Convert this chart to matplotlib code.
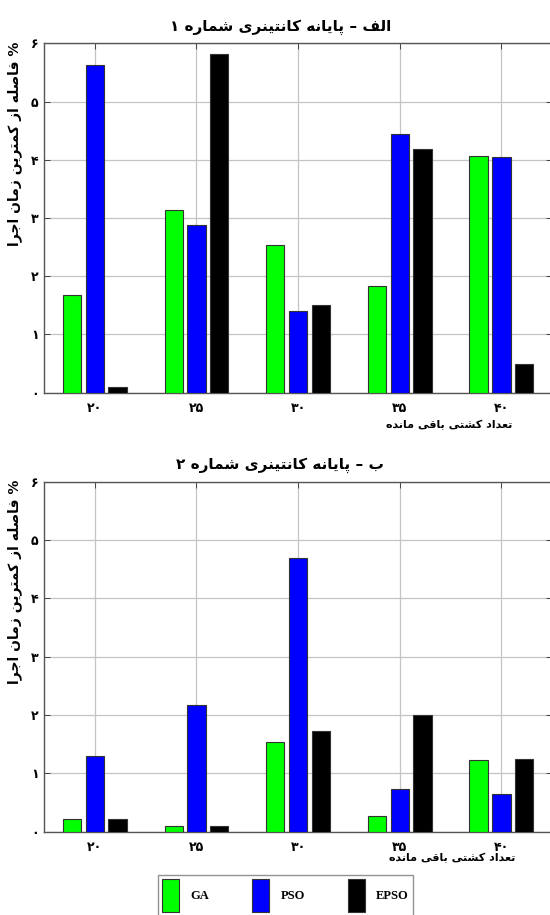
import re
import matplotlib
matplotlib.use('Agg')
import matplotlib.pyplot as plt
from matplotlib.patches import Patch

# data
ships = [20, 25, 30, 35, 40]
ship_labels = ['۲۰', '۲۵', '۳۰', '۳۵', '۴۰']
y_ticks = [0, 1, 2, 3, 4, 5, 6]
y_labels = ['۰', '۱', '۲', '۳', '۴', '۵', '۶']
methods = ['GA', 'PSO', 'EPSO']
colors = ['#00ff00', '#0000ff', '#000000']

ga_1 = [1.68, 3.14, 2.54, 1.84, 4.07]
pso_1 = [5.63, 2.88, 1.41, 4.45, 4.05]
epso_1 = [0.10, 5.81, 1.50, 4.19, 0.49]

ga_2 = [0.21, 0.10, 1.54, 0.27, 1.23]
pso_2 = [1.30, 2.17, 4.70, 0.74, 0.64]
epso_2 = [0.21, 0.10, 1.72, 2.00, 1.24]

title_1 = 'الف – پایانه کانتینری شماره ۱'
title_2 = 'ب – پایانه کانتینری شماره ۲'
ylab = '% فاصله از کمترین زمان اجرا'
xlab = 'تعداد کشتی باقی مانده'

# matplotlib has no arabic shaping, so pick presentation forms by hand
# base codepoint -> iso, fin, ini, med follow in order
BASE = {'ب': 0xFE8F, 'پ': 0xFB56, 'ت': 0xFE95, 'ج': 0xFE9D, 'ش': 0xFEB5,
        'ص': 0xFEB9, 'ع': 0xFEC9, 'ف': 0xFED1, 'ق': 0xFED5, 'ک': 0xFB8E,
        'ل': 0xFEDD, 'م': 0xFEE1, 'ن': 0xFEE5, 'ه': 0xFEE9, 'ی': 0xFBFC,
        'ا': 0xFE8D, 'د': 0xFEA9, 'ر': 0xFEAD, 'ز': 0xFEAF, 'و': 0xFEED}
NO_NEXT = set('ادرزو')


def fa(text):
    out = []
    for i, ch in enumerate(text):
        if ch not in BASE:
            out.append(ch)
            continue
        prev = text[i - 1] if i > 0 else ''
        nxt = text[i + 1] if i + 1 < len(text) else ''
        form = 0
        if prev in BASE and prev not in NO_NEXT:
            form += 1
        if ch not in NO_NEXT and nxt in BASE:
            form += 2
        out.append(chr(BASE[ch] + form))
    s = ''.join(out)[::-1]
    return re.sub('[۰-۹0-9]+', lambda m: m.group(0)[::-1], s)


plt.rcParams['font.family'] = ['DejaVu Sans']

fig = plt.figure(figsize=(5.5, 9.15), dpi=100)
ax1 = fig.add_axes([0.08, 0.5708, 0.924, 0.3819])
ax2 = fig.add_axes([0.08, 0.0910, 0.924, 0.3825])

offsets = [-1.12, 0.0, 1.12]


def draw(ax, series, title):
    for vals, off, c in zip(series, offsets, colors):
        ax.bar([s + off for s in ships], vals, width=0.9, color=c,
               edgecolor='#333333', linewidth=0.8, zorder=3)
    ax.set_xlim(17.5, 42.5)
    ax.set_ylim(0, 6)
    ax.set_xticks(ships)
    ax.set_xticklabels(ship_labels, fontsize=9, fontweight='bold')
    ax.set_yticks(y_ticks)
    ax.set_yticklabels(y_labels, fontsize=9, fontweight='bold')
    ax.tick_params(direction='in', top=True, right=True, length=4,
                   color='#444444', width=0.7)
    ax.tick_params(axis='x', pad=7)
    ax.tick_params(axis='y', pad=4)
    ax.grid(True, color='#c4c4c4', linewidth=0.9, zorder=0)
    for sp in ax.spines.values():
        sp.set_color('#555555')
        sp.set_linewidth(1.0)
    ax.set_title(fa(title), fontsize=11, fontweight='bold', pad=9,
                 x=0.465)
    ax.text(-0.057, 0.713, fa(ylab), rotation=90, ha='center', va='center',
            fontsize=10, fontweight='bold', transform=ax.transAxes)


draw(ax1, [ga_1, pso_1, epso_1], title_1)
draw(ax2, [ga_2, pso_2, epso_2], title_2)

ax1.text(0.921, -0.092, fa(xlab), ha='right', va='center', fontsize=8,
         fontweight='bold', transform=ax1.transAxes)
ax2.text(0.927, -0.076, fa(xlab), ha='right', va='center', fontsize=8,
         fontweight='bold', transform=ax2.transAxes)

handles = [Patch(facecolor=c, edgecolor='#333333', linewidth=0.8) for c in colors]
leg = fig.legend(handles, methods, loc='upper center', ncol=3,
                 bbox_to_anchor=(0.519, 0.0437), frameon=True, fancybox=False,
                 handlelength=1.4, handleheight=3.6, handletextpad=0.9,
                 columnspacing=3.4, borderpad=0.35, borderaxespad=0.0,
                 prop={'family': 'Liberation Serif', 'weight': 'bold', 'size': 9})
leg.get_frame().set_edgecolor('#777777')
leg.get_frame().set_linewidth(1.0)

fig.savefig('out.png', dpi=100)
